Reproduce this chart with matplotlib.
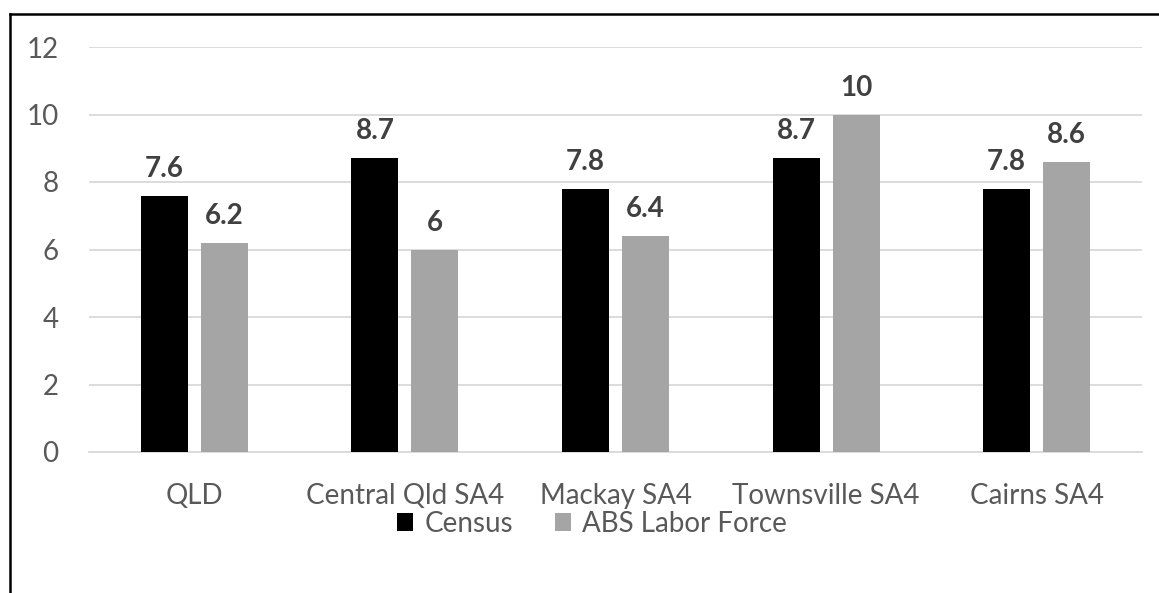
import matplotlib.pyplot as plt
import numpy as np
from matplotlib.lines import Line2D

categories = ['QLD', 'Central Qld SA4', 'Mackay SA4', 'Townsville SA4', 'Cairns SA4']
census = [7.6, 8.7, 7.8, 8.7, 7.8]
abs_lf = [6.2, 6.0, 6.4, 10.0, 8.6]
census_labels = ['7.6', '8.7', '7.8', '8.7', '7.8']
abs_labels = ['6.2', '6', '6.4', '10', '8.6']
yticks = [0, 2, 4, 6, 8, 10, 12]

plt.rcParams['font.family'] = ['Lato', 'DejaVu Sans']

fig = plt.figure(figsize=(11.59, 5.93), dpi=100)
ax = fig.add_axes([89/1159, 1-452/593, (1142-89)/1159, (452-47)/593])

x = np.arange(len(categories))
w = 0.223
off = 0.1425
b1 = ax.bar(x - off, census, w, color='#000000', label='Census', zorder=3)
b2 = ax.bar(x + off, abs_lf, w, color='#a5a5a5', label='ABS Labor Force', zorder=3)

for bars, labs in ((b1, census_labels), (b2, abs_labels)):
    for b, t in zip(bars, labs):
        ax.annotate(t, (b.get_x() + b.get_width()/2, b.get_height()),
                    xytext=(0, 10), textcoords='offset points',
                    ha='center', va='bottom', fontsize=20, fontweight='bold',
                    color='#404040')

ax.set_xlim(-0.5, len(categories) - 0.5)
ax.set_ylim(0, 12)
ax.set_yticks(yticks)
ax.set_xticks(x)
ax.set_xticklabels(categories)
ax.tick_params(axis='both', length=0, labelsize=20, labelcolor='#595959')
ax.tick_params(axis='y', pad=22)
ax.tick_params(axis='x', pad=22)
ax.grid(axis='y', color='#d9d9d9', linewidth=1.3, zorder=0)
for s in ('top', 'right', 'left'):
    ax.spines[s].set_visible(False)
ax.spines['bottom'].set_color('#d9d9d9')
ax.spines['bottom'].set_linewidth(1.3)

leg = fig.legend(handles=[b1, b2], loc='center', bbox_to_anchor=(592/1159, 1-524/593),
                 ncol=2, frameon=False, fontsize=20, handlelength=0.6, handleheight=0.6,
                 handletextpad=0.4, columnspacing=1.5)
for t in leg.get_texts():
    t.set_color('#595959')

# outer frame (top and left edges only)
fig.add_artist(Line2D([10/1159, 1], [1-13.5/593, 1-13.5/593], color='black', linewidth=1.8,
                      transform=fig.transFigure))
fig.add_artist(Line2D([10/1159, 10/1159], [0, 1-13.5/593], color='black', linewidth=1.8,
                      transform=fig.transFigure))

fig.savefig('out.png', dpi=100)
